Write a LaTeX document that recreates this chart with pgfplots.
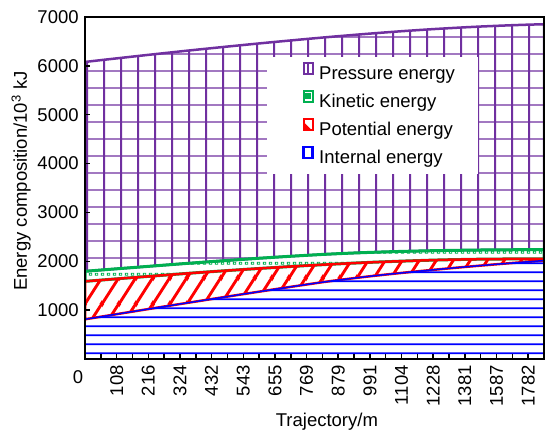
\documentclass[border=0pt]{standalone}
\usepackage{fontspec}
\setmainfont{Liberation Sans}
\usepackage{pgfplots}
\pgfplotsset{compat=1.18}
\usepackage{pgfplotstable}
\usetikzlibrary{patterns.meta}

\definecolor{ppurple}{RGB}{112,48,160}
\definecolor{pgreen}{RGB}{0,176,80}
\definecolor{pred}{RGB}{255,0,0}
\definecolor{pblue}{RGB}{0,0,255}

% fill patterns of the four energy bands
\tikzdeclarepattern{
  name=squaregrid, type=uncolored,
  bottom left={(0bp,0bp)}, top right={(17bp,17.3bp)},
  tile size={(17bp,17.3bp)},
  code={
    \draw[line width=1.3bp] (-1bp,2bp) -- (18bp,2bp);
    \draw[line width=2bp] (2.3bp,-1bp) -- (2.3bp,18.3bp);
  }
}
\tikzdeclarepattern{
  name=hlines, type=uncolored,
  bottom left={(0bp,0bp)}, top right={(8.5bp,8.5bp)},
  tile size={(8.5bp,8.5bp)},
  code={\draw[line width=1.7bp] (-1bp,1.8bp) -- (9.5bp,1.8bp);}
}
\tikzdeclarepattern{
  name=steepstripes, type=uncolored,
  bottom left={(0bp,0bp)}, top right={(17bp,25.5bp)},
  tile size={(17bp,25.5bp)},
  code={
    \draw[line width=3bp] (-34bp,-25.5bp) -- (17bp,51bp);
    \draw[line width=3bp] (-17bp,-25.5bp) -- (34bp,51bp);
    \draw[line width=3bp] (0bp,-25.5bp) -- (51bp,51bp);
  }
}
\tikzdeclarepattern{
  name=smalldots, type=uncolored,
  bottom left={(0bp,0bp)}, top right={(5.5bp,11bp)},
  tile size={(5.5bp,11bp)},
  code={\draw[line width=0.9bp] (1.5bp,3bp) rectangle (4bp,5bp);}
}

% energy components along the trajectory (10^3 kJ)
\pgfplotstableread{
i internal potential kinetic pressure
0  813 776 206 4285
1  865 750 206 4296
2  918 723 205 4307
3  970 696 205 4318
4  1022 669 205 4329
5  1074 642 205 4339
6  1125 616 205 4349
7  1176 589 205 4359
8  1227 561 206 4368
9  1278 532 207 4378
10 1328 504 208 4387
11 1378 475 209 4397
12 1428 445 210 4407
13 1477 416 210 4417
14 1525 387 210 4428
15 1572 358 210 4439
16 1615 332 209 4451
17 1655 308 207 4464
18 1693 285 204 4478
19 1728 263 202 4492
20 1762 241 199 4507
21 1794 220 196 4521
22 1825 199 193 4535
23 1855 177 190 4549
24 1884 154 189 4562
25 1912 131 188 4574
26 1939 107 188 4585
27 1965 83  188 4596
28 1990 60  188 4605
29 2015 36  188 4613
}\energydata

\begin{document}
\fontsize{18.5bp}{22bp}\selectfont
\begin{tikzpicture}
\begin{axis}[
  name=ax,
  at={(85bp,73bp)}, anchor=south west,
  scale only axis, width=459bp, height=342bp,
  xmin=0, xmax=29, ymin=0, ymax=7000,
  stack plots=y,
  axis on top,
  axis line style={black, line width=2.5bp},
  tick align=inside, tick pos=left,
  major tick length=5bp,
  every tick/.style={black, line width=1.5bp},
  xtick={0,...,29},
  xticklabels={,,108,,216,,324,,432,,543,,655,,769,,879,,991,,1104,,1228,,1381,,1587,,1782,},
  x tick label style={rotate=90, anchor=east},
  ytick={1000,2000,3000,4000,5000,6000,7000},
  yticklabels={1000,2000,3000,4000,5000,6000,7000},
  xlabel={Trajectory/m},
  ylabel={Energy composition/10\textsuperscript{3} kJ},
  xlabel style={at={(axis description cs:0.527,-0.196)}, anchor=base},
  ylabel style={at={(axis description cs:-0.1264,0.52)}, anchor=base},
  legend style={at={(rel axis cs:0.3965,0.883)}, anchor=north west,
    draw=none, fill=white, inner xsep=21bp, inner ysep=4.5bp, row sep=4bp,
    nodes={inner sep=2bp, text height=14bp, text depth=4bp}},
  legend cell align=left,
  reverse legend,
]
\addplot[draw=pblue, line width=1.5bp, pattern=hlines, pattern color=pblue,
  legend image code/.code={
    \path (-14bp,0bp) (12bp,0bp);
    \draw[pblue, line width=2.4bp, fill=white] (0bp,1bp) rectangle (9bp,12bp);}]
  table[x=i, y=internal]{\energydata} \closedcycle;
\addlegendentry{Internal energy}
\addplot[draw=pred, line width=2.5bp, pattern=steepstripes, pattern color=pred,
  legend image code/.code={
    \path (-14bp,0bp) (12bp,0bp);
    \draw[pred, line width=2bp, fill=white] (0bp,1bp) rectangle (9bp,12bp);
    \fill[pred] (1bp,2bp) -- (5bp,2bp) -- (1bp,6bp) -- cycle;}]
  table[x=i, y=potential]{\energydata} \closedcycle;
\addlegendentry{Potential energy}
\addplot[draw=pgreen, line width=3bp, pattern=smalldots, pattern color=pgreen,
  legend image code/.code={
    \path (-14bp,0bp) (12bp,0bp);
    \draw[pgreen, line width=2bp, fill=white] (0bp,1bp) rectangle (9bp,12bp);
    \fill[pgreen] (2.5bp,5bp) rectangle (5.5bp,8bp);}]
  table[x=i, y=kinetic]{\energydata} \closedcycle;
\addlegendentry{Kinetic energy}
\addplot[draw=ppurple, line width=2.5bp, pattern=squaregrid, pattern color=ppurple,
  legend image code/.code={
    \path (-14bp,0bp) (12bp,0bp);
    \draw[ppurple, line width=2bp, fill=white] (0bp,1bp) rectangle (9bp,12bp);
    \draw[ppurple, line width=1.5bp] (4.5bp,1bp) -- (4.5bp,12bp);}]
  table[x=i, y=pressure]{\energydata} \closedcycle;
\addlegendentry{Pressure energy}
\end{axis}
\node at ([xshift=-7bp,yshift=-18bp]ax.south west) {0};
\pgfresetboundingbox
\path[use as bounding box] (0bp,0bp) rectangle (545bp,432bp);
\end{tikzpicture}
\end{document}
